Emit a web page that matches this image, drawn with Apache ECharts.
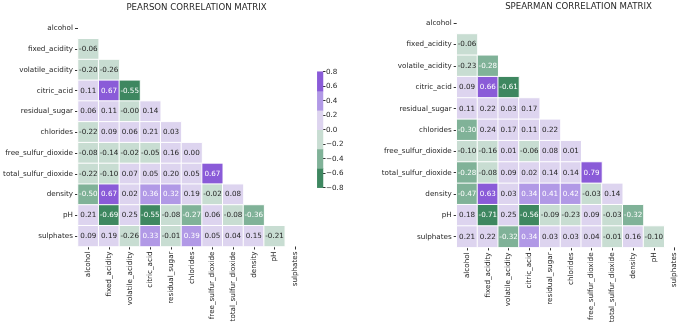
<!DOCTYPE html>
<html>
<head>
<meta charset="utf-8">
<script src="https://cdn.jsdelivr.net/npm/echarts@6/dist/echarts.min.js"></script>
<style>
  html, body { margin: 0; padding: 0; background: #fff; }
  #chart { width: 685px; height: 326px; }
</style>
</head>
<body>
<div id="chart"></div>
<script>
const features = ['alcohol', 'fixed_acidity', 'volatile_acidity', 'citric_acid', 'residual_sugar',
  'chlorides', 'free_sulfur_dioxide', 'total_sulfur_dioxide', 'density', 'pH', 'sulphates']

// lower triangle, row i holds columns 0..i-1
const pearson = [
  [],
  [-0.06],
  [-0.20, -0.26],
  [0.11, 0.67, -0.55],
  [0.06, 0.11, -0.004, 0.14],
  [-0.22, 0.09, 0.06, 0.21, 0.03],
  [-0.08, -0.14, -0.02, -0.05, 0.16, 0.003],
  [-0.22, -0.10, 0.07, 0.05, 0.20, 0.05, 0.67],
  [-0.50, 0.67, 0.02, 0.36, 0.32, 0.19, -0.02, 0.08],
  [0.21, -0.69, 0.25, -0.55, -0.08, -0.27, 0.06, -0.08, -0.36],
  [0.09, 0.19, -0.26, 0.33, -0.01, 0.39, 0.05, 0.04, 0.15, -0.21]
]

const spearman = [
  [],
  [-0.06],
  [-0.23, -0.28],
  [0.09, 0.66, -0.61],
  [0.11, 0.22, 0.03, 0.17],
  [-0.30, 0.24, 0.17, 0.11, 0.22],
  [-0.10, -0.16, 0.01, -0.06, 0.08, 0.01],
  [-0.28, -0.08, 0.09, 0.02, 0.14, 0.14, 0.79],
  [-0.47, 0.63, 0.03, 0.34, 0.41, 0.42, -0.03, 0.14],
  [0.18, -0.71, 0.25, -0.56, -0.09, -0.23, 0.09, -0.03, -0.32],
  [0.21, 0.22, -0.32, 0.34, 0.03, 0.03, 0.04, -0.01, 0.16, -0.10]
]

// colorbar: 6 discrete steps between -0.8 and 0.8
const binEdges = [-0.8, -0.5333, -0.2667, 0, 0.2667, 0.5333, 0.8]
const binColors = ['#3e8760', '#80b298', '#c8ddd2', '#ddd4ef', '#b199e6', '#8a5bd8']
const colorbarTicks = [-0.8, -0.6, -0.4, -0.2, 0.0, 0.2, 0.4, 0.6, 0.8]

const font = 'DejaVu Sans'
const textDark = '#262626'

const pieces = binColors.map((c, i) => ({ gte: binEdges[i], lt: binEdges[i + 1], color: c }))
pieces[pieces.length - 1].lte = 0.8

function cells(mat) {
  const out = []
  mat.forEach((row, i) => {
    row.forEach((v, j) => {
      const dark = v < binEdges[2] || v >= binEdges[4]
      out.push({ value: [j, i, v], label: { color: dark ? '#fff' : textDark } })
    })
  })
  return out
}

const binData = binEdges.slice(0, -1).map((e, i) => [0, i, (e + binEdges[i + 1]) / 2])

function catAxes(gi) {
  return {
    x: {
      type: 'category', gridIndex: gi, data: features, position: 'bottom',
      axisLine: { show: false }, splitLine: { show: false },
      axisTick: { show: true, length: 3, alignWithLabel: true, lineStyle: { color: '#333' } },
      axisLabel: { rotate: 90, interval: 0, fontFamily: font, fontSize: 7.2, color: textDark, margin: 5 }
    },
    y: {
      type: 'category', gridIndex: gi, data: features, inverse: true,
      axisLine: { show: false }, splitLine: { show: false },
      axisTick: { show: true, length: 3, alignWithLabel: true, lineStyle: { color: '#333' } },
      axisLabel: { interval: 0, fontFamily: font, fontSize: 7.2, color: textDark, margin: 5 }
    }
  }
}

const a0 = catAxes(0), a1 = catAxes(1)

const heatStyle = {
  type: 'heatmap',
  itemStyle: { borderColor: '#fff', borderWidth: 1 },
  label: {
    show: true, fontFamily: font, fontSize: 7.2,
    formatter: p => p.value[2].toFixed(2)
  },
  emphasis: { disabled: true }
}

const chart = echarts.init(document.getElementById('chart'), null, { renderer: 'canvas' })
chart.setOption({
  animation: false,
  backgroundColor: '#fff',
  title: [
    { text: 'PEARSON CORRELATION MATRIX', left: 191.5, top: -2, textAlign: 'center',
      textStyle: { fontFamily: font, fontSize: 8.6, fontWeight: 'normal', color: textDark } },
    { text: 'SPEARMAN CORRELATION MATRIX', left: 573.5, top: -3, textAlign: 'center',
      textStyle: { fontFamily: font, fontSize: 8.6, fontWeight: 'normal', color: textDark } }
  ],
  grid: [
    { left: 78, top: 18, width: 227.5, height: 228.5 },
    { left: 456.7, top: 12.6, width: 234, height: 234.8 },
    { left: 317.3, top: 71.7, width: 5.7, height: 116 }
  ],
  xAxis: [a0.x, a1.x,
    { type: 'category', gridIndex: 2, data: ['cb'], show: false }],
  yAxis: [a0.y, a1.y,
    { type: 'category', gridIndex: 2, data: binColors.map((c, i) => i), show: false },
    { type: 'value', gridIndex: 2, position: 'right', min: -0.8, max: 0.8, interval: 0.2,
      axisLine: { show: false }, splitLine: { show: false },
      axisTick: { show: true, length: 2.5, lineStyle: { color: '#333' } },
      axisLabel: { fontFamily: font, fontSize: 7.2, color: textDark, margin: 3,
        customValues: colorbarTicks,
        formatter: v => (Math.abs(v) < 1e-9 ? '0.0' : v.toFixed(1).replace('-', '\u2212')) } }],
  visualMap: {
    type: 'piecewise', show: false, dimension: 2, seriesIndex: [0, 1, 2], pieces: pieces
  },
  series: [
    Object.assign({}, heatStyle, { xAxisIndex: 0, yAxisIndex: 0, data: cells(pearson) }),
    Object.assign({}, heatStyle, { xAxisIndex: 1, yAxisIndex: 1, data: cells(spearman) }),
    { type: 'heatmap', xAxisIndex: 2, yAxisIndex: 2, data: binData, emphasis: { disabled: true } }
  ]
})
</script>
</body>
</html>
